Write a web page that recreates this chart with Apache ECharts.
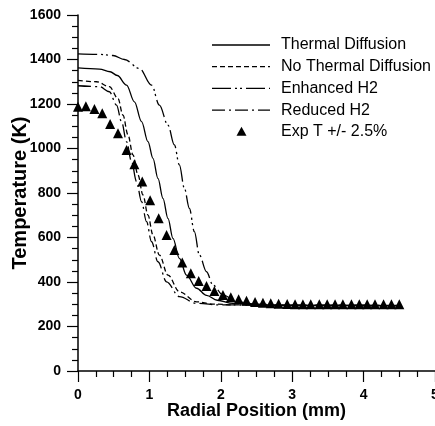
<!DOCTYPE html>
<html>
<head>
<meta charset="utf-8">
<script src="https://cdn.jsdelivr.net/npm/echarts@6/dist/echarts.min.js"></script>
<style>
  html, body { margin: 0; padding: 0; background: #fff; }
  #chart { width: 435px; height: 426px; }
</style>
</head>
<body>
<div id="chart"></div>
<script>
// Thermal Diffusion (solid)
var tdX = [0, 0.3, 0.45, 0.55, 0.68, 0.79, 0.89, 0.98, 1.05, 1.12, 1.19, 1.26, 1.33, 1.42, 1.52, 1.66, 1.8, 1.95, 2.17, 2.5, 3, 3.5, 4, 4.5]
var tdT = [1362, 1357, 1345, 1328, 1285, 1210, 1121, 1031, 956, 866, 776, 686, 596, 506, 431, 372, 340, 318, 304, 297, 295, 294, 294, 294]

// No Thermal Diffusion (dashed)
var ntdX = [0, 0.26, 0.44, 0.56, 0.63, 0.7, 0.77, 0.84, 0.91, 0.98, 1.05, 1.14, 1.26, 1.42, 1.66, 1.89, 2.2, 3, 4.5]
var ntdT = [1306, 1300, 1278, 1225, 1150, 1061, 971, 881, 791, 701, 611, 521, 431, 356, 311, 301, 297, 295, 294]

// Enhanced H2
var ehX = [0, 0.3, 0.49, 0.65, 0.86, 1.03, 1.14, 1.26, 1.35, 1.42, 1.49, 1.56, 1.63, 1.7, 1.8, 1.89, 2.03, 2.22, 2.5, 3, 4.5]
var ehT = [1425, 1423, 1418, 1400, 1360, 1285, 1195, 1105, 1016, 926, 821, 731, 626, 521, 446, 386, 342, 311, 300, 296, 295]

// Reduced H2
var rdX = [0, 0.3, 0.44, 0.54, 0.61, 0.68, 0.75, 0.82, 0.89, 0.96, 1.03, 1.12, 1.24, 1.42, 1.66, 2, 3, 4.5]
var rdT = [1282, 1278, 1255, 1195, 1120, 1031, 941, 851, 761, 671, 581, 491, 401, 334, 304, 297, 295, 294]

// Exp T +/- 2.5%
var expX = [0, 0.11, 0.23, 0.34, 0.45, 0.56, 0.68, 0.79, 0.9, 1.01, 1.13, 1.24, 1.35, 1.46, 1.58, 1.69, 1.8, 1.91, 2.03, 2.14,
  2.25, 2.36, 2.48, 2.59, 2.7, 2.81, 2.93, 3.04, 3.15, 3.26, 3.38, 3.49, 3.6, 3.71, 3.83, 3.94, 4.05, 4.16, 4.28, 4.39, 4.5]
var expT = [1188, 1190, 1178, 1158, 1110, 1068, 993, 929, 852, 767, 686, 611, 544, 488, 439, 404, 382, 360, 342, 331,
  322, 316, 310, 307, 304, 302, 301, 300, 300, 300, 300, 300, 300, 300, 300, 300, 300, 300, 300, 300, 300]

var xTicks = [0, 1, 2, 3, 4, 5]
var yTicks = [0, 200, 400, 600, 800, 1000, 1200, 1400, 1600]

var legendNames = ['Thermal Diffusion', 'No Thermal Diffusion', 'Enhanced H2', 'Reduced H2', 'Exp T +/- 2.5%']
var dashes = ['solid', [5, 3], [19, 4, 2, 3, 2, 4], [13, 4, 2, 4]]

function pairs(xs, ys) {
  return xs.map(function (x, i) { return [x, ys[i]] })
}

var font = '"Liberation Sans", Arial, sans-serif'

function lineSeries(name, xs, ys, dash) {
  return {
    name: name,
    type: 'line',
    data: pairs(xs, ys),
    symbol: 'none',
    smooth: 0.35,
    smoothMonotone: 'x',
    lineStyle: { color: '#000', width: 1.3, type: dash },
    z: 2
  }
}

var axisCommon = {
  axisLine: { lineStyle: { color: '#000', width: 1.5 } },
  axisTick: { length: 11, lineStyle: { color: '#000', width: 1.2 } },
  minorTick: { show: true, splitNumber: 4, length: 6, lineStyle: { color: '#000', width: 1.2 } },
  splitLine: { show: false },
  minorSplitLine: { show: false },
  nameMoveOverlap: false,
  nameLocation: 'middle'
}

var tickLabel = {
  color: '#000',
  fontFamily: font,
  fontWeight: 'bold',
  fontSize: 14,
  formatter: function (v) { return String(v) }
}

// legend drawn by hand: line samples, triangle and labels
var legendItems = []
legendNames.forEach(function (name, i) {
  var y = 45 + i * 21.7
  if (i < 4) {
    legendItems.push({
      type: 'line',
      shape: { x1: 212, y1: y, x2: 270, y2: y },
      style: { stroke: '#000', lineWidth: 1.3, lineDash: dashes[i] === 'solid' ? null : dashes[i] }
    })
  } else {
    legendItems.push({
      type: 'polygon',
      shape: { points: [[241.5, y - 5], [246.5, y + 4], [236.5, y + 4]] },
      style: { fill: '#000' }
    })
  }
  legendItems.push({
    type: 'text',
    x: 281,
    y: y,
    style: { text: name, fill: '#000', font: '16px ' + font, textVerticalAlign: 'middle' }
  })
})

var myChart = echarts.init(document.getElementById('chart'))
var option = {
  animation: false,
  backgroundColor: '#fff',
  textStyle: { fontFamily: font },
  grid: { left: 78, right: 0, top: 15, bottom: 55, outerBoundsMode: 'none' },
  graphic: legendItems,
  xAxis: Object.assign({}, axisCommon, {
    type: 'value',
    min: xTicks[0],
    max: xTicks[xTicks.length - 1],
    interval: 1,
    name: 'Radial Position (mm)',
    nameGap: 31,
    nameTextStyle: { color: '#000', fontFamily: font, fontWeight: 'bold', fontSize: 18 },
    axisLabel: Object.assign({ margin: 17 }, tickLabel)
  }),
  yAxis: Object.assign({}, axisCommon, {
    type: 'value',
    min: yTicks[0],
    max: yTicks[yTicks.length - 1],
    interval: 200,
    name: 'Temperature (K)',
    nameGap: 48,
    nameTextStyle: { color: '#000', fontFamily: font, fontWeight: 'bold', fontSize: 20 },
    axisLabel: Object.assign({ margin: 17 }, tickLabel)
  }),
  series: [
    lineSeries(legendNames[0], tdX, tdT, dashes[0]),
    lineSeries(legendNames[1], ntdX, ntdT, dashes[1]),
    lineSeries(legendNames[2], ehX, ehT, dashes[2]),
    lineSeries(legendNames[3], rdX, rdT, dashes[3]),
    {
      name: legendNames[4],
      type: 'scatter',
      data: pairs(expX, expT),
      symbol: 'triangle',
      symbolSize: 10,
      itemStyle: { color: '#000', opacity: 1 },
      z: 3
    }
  ]
}
option && myChart.setOption(option)
</script>
</body>
</html>
